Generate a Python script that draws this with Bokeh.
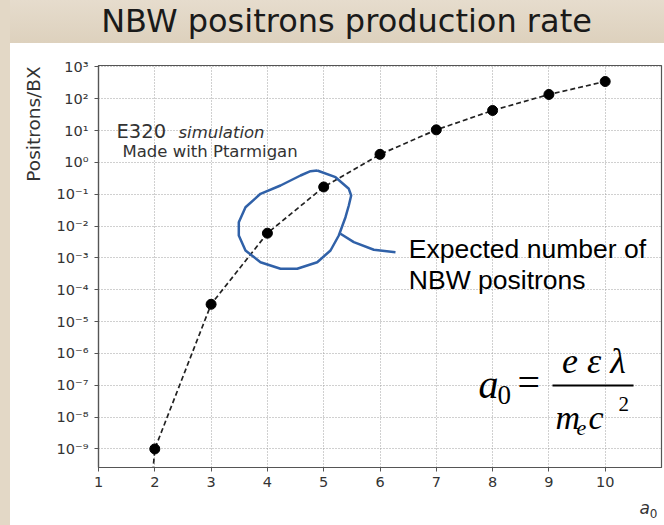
from bokeh.plotting import figure
from bokeh.models import Label, FixedTicker, CustomJSTickFormatter, Range1d
from bokeh.embed import file_html
from bokeh.resources import INLINE

# ---- data ----
a0_values = [1, 2, 3, 4, 5, 6, 7, 8, 9, 10]
positrons_per_bx = [1e-30, 1e-9, 3.5e-5, 6.0e-3, 0.17, 1.8, 10.6, 43.0, 137.0, 350.0]
x_ticks = [1, 2, 3, 4, 5, 6, 7, 8, 9, 10]
y_tick_exponents = [-9, -8, -7, -6, -5, -4, -3, -2, -1, 0, 1, 2, 3]

title_text = "NBW positrons production rate"
y_label_text = "Positrons/BX"
note_main = "E320"
note_italic = "simulation"
note_sub = "Made with Ptarmigan"
callout_lines = ["Expected number of", "NBW positrons"]

# hand-drawn loop (a0, log10 of positrons/BX)
loop_x = [4.885, 5.210, 5.446, 5.488, 5.446, 5.387, 5.268, 5.121, 4.885, 4.529,
          4.233, 3.877, 3.611, 3.492, 3.492, 3.611, 3.877, 4.233, 4.588, 4.766, 4.885]
loop_logy = [-0.252, -0.462, -0.827, -1.037, -1.351, -1.719, -2.294, -2.765, -3.133, -3.340,
             -3.340, -3.133, -2.765, -2.294, -1.876, -1.405, -0.984, -0.723, -0.409, -0.274, -0.252]
tail_x = [5.298, 5.535, 5.890, 6.275]
tail_logy = [-2.240, -2.504, -2.743, -2.818]

DARK = "#333333"

p = figure(width=664, height=525, y_axis_type="log",
           x_range=Range1d(1, 11.0), y_range=Range1d(10 ** -9.583, 10 ** 3.047),
           output_backend="svg", toolbar_location=None, title=None,
           min_border_left=98, min_border_right=3, min_border_top=65, min_border_bottom=58,
           background_fill_color="white", border_fill_color=None,
           outline_line_color="#555555", outline_line_width=1.2)

# slide background behind the chart: beige header band and thin beige strip on the left
p.styles = {
    "background": ("linear-gradient(to right, #e3d8c6 0px, #e3d8c6 10px, rgba(255,255,255,0) 10px), "
                   "linear-gradient(to bottom, #e6dccd 0px, #ddd1bd 43px, #ffffff 43px, #ffffff 100%)"),
}

xt = FixedTicker(ticks=x_ticks)
yt = FixedTicker(ticks=[10.0 ** e for e in y_tick_exponents])
p.xaxis.ticker = xt
p.yaxis.ticker = yt
p.xgrid.ticker = xt
p.ygrid.ticker = yt
p.yaxis.formatter = CustomJSTickFormatter(code=r"""
const sup = {'-':'\u207b','0':'\u2070','1':'\u00b9','2':'\u00b2','3':'\u00b3','4':'\u2074',
             '5':'\u2075','6':'\u2076','7':'\u2077','8':'\u2078','9':'\u2079'};
const e = Math.round(Math.log10(tick));
return '10' + String(e).split('').map(c => sup[c]).join('');
""")

for ax in (p.xaxis, p.yaxis):
    ax.axis_line_color = "#555555"
    ax.axis_line_width = 1.2
    ax.major_tick_line_color = "#555555"
    ax.major_tick_out = 4
    ax.major_tick_in = 0
    ax.minor_tick_line_color = None
    ax.major_label_text_font = "DejaVu Sans"
    ax.major_label_text_font_size = "14.5px"
    ax.major_label_text_color = DARK
p.xaxis.major_label_standoff = 5
p.yaxis.major_label_standoff = 6

p.grid.grid_line_color = "#a0a0a0"
p.grid.grid_line_dash = "1 2"
p.grid.grid_line_width = 1

# data
p.line(a0_values, positrons_per_bx, line_color="#222222", line_width=1.7, line_dash="5 3")
p.scatter(a0_values, positrons_per_bx, size=10, fill_color="black", line_color="black")

# blue hand-drawn loop
p.line(loop_x, [10 ** v for v in loop_logy], line_color="#3061a8", line_width=2.5)
p.line(tail_x, [10 ** v for v in tail_logy], line_color="#3061a8", line_width=2.5)


def lab(x, logy, text, font="DejaVu Sans", size="14px", style="normal", color=DARK,
        align="left", angle=0, baseline="alphabetic", place=None):
    lbl = Label(x=x, y=10 ** logy, text=text, text_font=font, text_font_size=size,
                text_font_style=style, text_color=color, text_align=align,
                text_baseline=baseline, angle=angle)
    if place is None:
        p.add_layout(lbl)
    else:
        p.add_layout(lbl, place)


lab(5.405, 4.448, title_text, font="DejaVu Sans", size="32px", color="#1a1a1a", align="center", place="above")
lab(-0.1545, 1.209, y_label_text, size="18.5px", align="center", baseline="middle", angle=1.5708, place="left")
lab(1.320, 0.977, note_main, size="19.5px")
lab(2.421, 0.945, note_italic, size="16.5px", style="italic")
lab(1.426, 0.358, note_sub, size="16.5px")
lab(6.512, -2.721, callout_lines[0], font="Liberation Sans", size="26.5px", color="black")
lab(6.512, -3.695, callout_lines[1], font="Liberation Sans", size="26.5px", color="black")
lab(10.609, -10.852, "a", size="17px", style="italic", place="below")
lab(10.790, -11.028, "0", size="12px", place="below")

# formula a0 = e eps lambda / (m_e c^2)
SERIF = "Liberation Serif"
lab(7.750, -6.969, "a", font=SERIF, size="40px", style="italic", color="black")
lab(8.087, -7.292, "0", font=SERIF, size="27px", color="black")
lab(8.442, -6.906, "=", font=SERIF, size="40px", color="black")
lab(9.801, -6.224, "e ε λ", font=SERIF, size="36px", style="italic", color="black", align="center")
p.segment(x0=[9.064], y0=[10 ** -7.006], x1=[10.503], y1=[10 ** -7.006], line_color="black", line_width=1.8)
lab(9.117, -8.005, "m", font=SERIF, size="34px", style="italic", color="black")
lab(9.490, -8.348, "e", font=SERIF, size="22px", style="italic", color="black")
lab(9.703, -8.005, "c", font=SERIF, size="34px", style="italic", color="black")
lab(10.236, -7.575, "2", font=SERIF, size="21px", color="black")

open("out.html", "w", encoding="utf-8").write(file_html(p, INLINE))
